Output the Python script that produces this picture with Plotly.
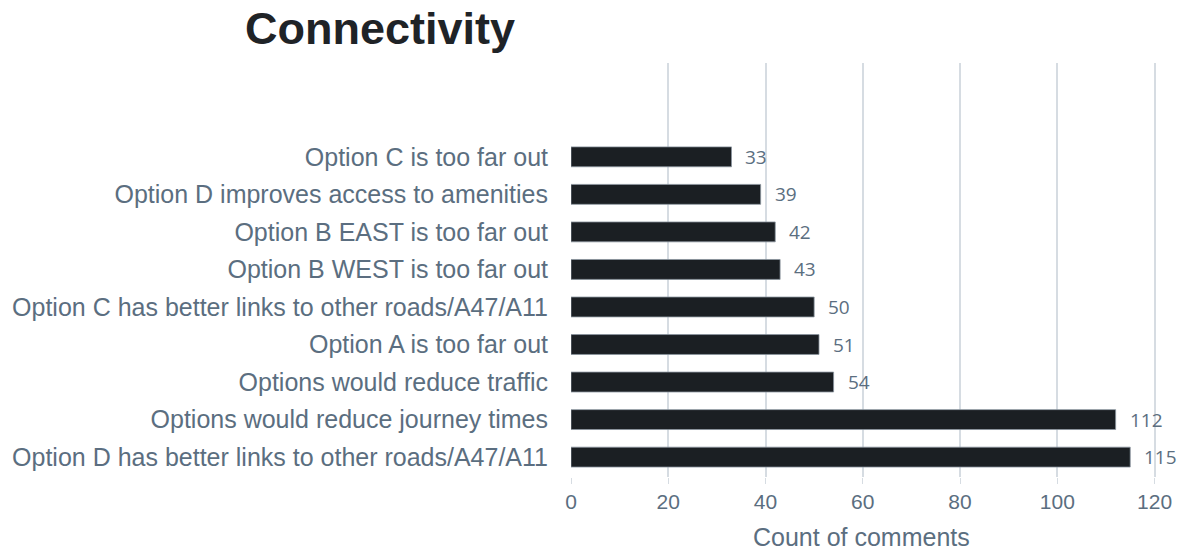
import plotly.graph_objects as go

# Comment themes (bottom to top) and their counts
categories = [
    "Option D has better links to other roads/A47/A11",
    "Options would reduce journey times",
    "Options would reduce traffic",
    "Option A is too far out",
    "Option C has better links to other roads/A47/A11",
    "Option B WEST is too far out",
    "Option B EAST is too far out",
    "Option D improves access to amenities",
    "Option C is too far out",
]
counts = [115, 112, 54, 51, 50, 43, 42, 39, 33]
x_ticks = [0, 20, 40, 60, 80, 100, 120]

label_color = "#5b6e80"
bar_color = "#1b1f23"

fig = go.Figure(
    go.Bar(
        y=categories,
        x=counts,
        orientation="h",
        marker=dict(color=bar_color, line=dict(color="#8a949e", width=0.8)),
        hoverinfo="x+y",
    )
)

# Value labels just past the end of each bar
for cat, val in zip(categories, counts):
    fig.add_annotation(
        x=val, y=cat, text=str(val), showarrow=False,
        xanchor="left", xshift=12, yshift=0,
        font=dict(family="Open Sans", size=19, color=label_color),
    )

# Axis title for the count axis
fig.add_annotation(
    text="Count of comments", showarrow=False,
    xref="paper", yref="paper",
    x=(861 - 571) / (1182 - 571 - 8), xanchor="center",
    y=-(537 - 477) / (551 - 63 - 74), yanchor="middle",
    font=dict(family="Liberation Sans", size=25, color=label_color),
)

fig.update_layout(
    width=1182,
    height=551,
    margin=dict(l=571, r=8, t=63, b=74, autoexpand=False),
    plot_bgcolor="white",
    paper_bgcolor="white",
    bargap=0.47,
    showlegend=False,
    title=dict(
        text="<b>Connectivity</b>",
        x=245 / 1182, xanchor="left", xref="container",
        y=1 - 28 / 551, yanchor="middle", yref="container",
        font=dict(family="Liberation Sans", size=45, color="#1f2327"),
    ),
    xaxis=dict(
        range=[0, 124],
        tickvals=x_ticks,
        automargin=False,
        showgrid=True,
        gridcolor="#d6dce2",
        gridwidth=1.5,
        zeroline=False,
        showline=False,
        ticks="outside",
        ticklen=6,
        tickcolor="#d6dce2",
        tickfont=dict(family="Liberation Sans", size=21, color=label_color),
    ),
    yaxis=dict(
        range=[-0.53, 10.5],
        automargin=False,
        showgrid=False,
        zeroline=False,
        showline=False,
        ticklabelstandoff=22,
        tickfont=dict(family="Liberation Sans", size=25, color=label_color),
    ),
)

fig.write_html("out.html")
